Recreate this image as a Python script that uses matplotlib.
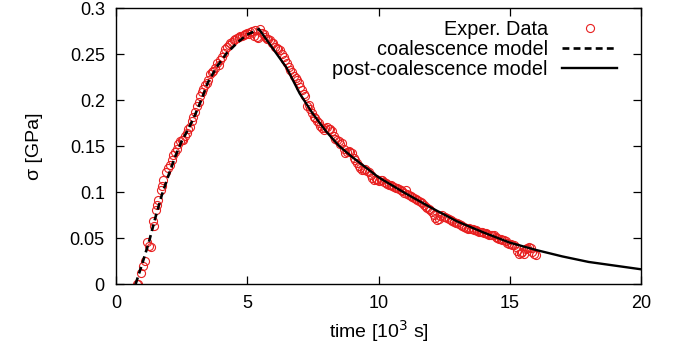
"""Stress relaxation: experimental data vs coalescence / post-coalescence model."""
import matplotlib

matplotlib.use("Agg")
import matplotlib.pyplot as plt

exp_t = [
    0.80, 0.85, 0.97, 1.04, 1.10, 1.20, 1.26, 1.32, 1.42, 1.46, 1.51, 1.58, 1.62, 1.70,
    1.75, 1.81, 1.91, 1.97, 2.06, 2.12, 2.19, 2.26, 2.32, 2.38, 2.44, 2.50, 2.57, 2.64,
    2.70, 2.76, 2.82, 2.89, 2.95, 3.02, 3.08, 3.15, 3.21, 3.27, 3.33, 3.40, 3.46, 3.52,
    3.59, 3.65, 3.71, 3.78, 3.84, 3.91, 3.97, 4.04, 4.10, 4.16, 4.22, 4.29, 4.35, 4.42,
    4.48, 4.55, 4.61, 4.67, 4.74, 4.80, 4.86, 4.93, 4.99, 5.05, 5.11, 5.18, 5.24, 5.31,
    5.37, 5.42, 5.50, 5.56, 5.62, 5.69, 5.75, 5.81, 5.88, 5.94, 6.00, 6.07, 6.13, 6.19,
    6.26, 6.32, 6.39, 6.45, 6.52, 6.58, 6.64, 6.71, 6.77, 6.84, 6.90, 6.96, 7.02, 7.09,
    7.15, 7.21, 7.28, 7.34, 7.40, 7.47, 7.53, 7.59, 7.66, 7.72, 7.78, 7.85, 7.91, 7.98,
    8.04, 8.10, 8.17, 8.23, 8.30, 8.36, 8.42, 8.49, 8.55, 8.61, 8.68, 8.74, 8.80, 8.87,
    8.93, 9.00, 9.06, 9.12, 9.19, 9.25, 9.31, 9.38, 9.44, 9.50, 9.57, 9.63, 9.70, 9.76,
    9.82, 9.89, 9.95, 10.01, 10.08, 10.14, 10.20, 10.27, 10.33, 10.40, 10.46, 10.52,
    10.59, 10.65, 10.71, 10.78, 10.84, 10.90, 10.97, 11.03, 11.09, 11.16, 11.22, 11.28,
    11.35, 11.41, 11.47, 11.54, 11.60, 11.67, 11.73, 11.79, 11.86, 11.92, 11.98, 12.05,
    12.11, 12.17, 12.24, 12.30, 12.36, 12.43, 12.49, 12.55, 12.62, 12.68, 12.75, 12.81,
    12.87, 12.94, 13.00, 13.07, 13.13, 13.19, 13.26, 13.32, 13.39, 13.45, 13.51, 13.58,
    13.64, 13.70, 13.77, 13.83, 13.90, 13.96, 14.02, 14.09, 14.15, 14.21, 14.28, 14.34,
    14.40, 14.47, 14.53, 14.59, 14.66, 14.72, 14.78, 14.85, 14.91, 14.97, 15.04, 15.10,
    15.16, 15.23, 15.29, 15.35, 15.42, 15.48, 15.55, 15.61, 15.67, 15.74, 15.80, 15.86,
    15.93, 15.99,
]
exp_sigma = [
    0.000, 0.000, 0.012, 0.020, 0.025, 0.046, 0.041, 0.040, 0.068, 0.063, 0.080, 0.086, 0.091, 0.102,
    0.106, 0.113, 0.122, 0.126, 0.129, 0.135, 0.140, 0.143, 0.147, 0.152, 0.155, 0.156, 0.157, 0.161,
    0.164, 0.168, 0.171, 0.177, 0.182, 0.187, 0.193, 0.198, 0.204, 0.209, 0.212, 0.216, 0.219, 0.222,
    0.228, 0.230, 0.231, 0.235, 0.240, 0.238, 0.244, 0.247, 0.251, 0.255, 0.258, 0.260, 0.262, 0.263,
    0.265, 0.266, 0.267, 0.268, 0.270, 0.270, 0.271, 0.272, 0.273, 0.272, 0.274, 0.275, 0.270, 0.276,
    0.268, 0.267, 0.277, 0.273, 0.272, 0.268, 0.266, 0.266, 0.265, 0.262, 0.262, 0.258, 0.257, 0.255,
    0.254, 0.250, 0.247, 0.243, 0.240, 0.236, 0.233, 0.230, 0.226, 0.224, 0.222, 0.218, 0.214, 0.211,
    0.207, 0.204, 0.193, 0.195, 0.190, 0.186, 0.182, 0.180, 0.177, 0.175, 0.172, 0.170, 0.167, 0.170,
    0.171, 0.168, 0.169, 0.166, 0.161, 0.158, 0.156, 0.155, 0.152, 0.153, 0.147, 0.142, 0.143, 0.145,
    0.143, 0.142, 0.137, 0.135, 0.131, 0.128, 0.126, 0.124, 0.124, 0.125, 0.123, 0.122, 0.118, 0.115,
    0.113, 0.114, 0.113, 0.112, 0.113, 0.113, 0.111, 0.110, 0.109, 0.108, 0.108, 0.106,
    0.105, 0.104, 0.104, 0.103, 0.102, 0.101, 0.099, 0.102, 0.098, 0.097, 0.096, 0.095,
    0.094, 0.092, 0.091, 0.090, 0.089, 0.088, 0.086, 0.084, 0.083, 0.081, 0.080, 0.078,
    0.075, 0.072, 0.070, 0.071, 0.074, 0.075, 0.073, 0.073, 0.072, 0.071, 0.070, 0.068,
    0.067, 0.066, 0.066, 0.065, 0.064, 0.063, 0.062, 0.061, 0.060, 0.061, 0.060, 0.060,
    0.059, 0.059, 0.058, 0.057, 0.057, 0.057, 0.055, 0.055, 0.054, 0.053, 0.053, 0.053,
    0.053, 0.051, 0.050, 0.049, 0.049, 0.048, 0.048, 0.047, 0.045, 0.044, 0.043, 0.042,
    0.042, 0.040, 0.036, 0.033, 0.034, 0.035, 0.033, 0.038, 0.039, 0.040, 0.039, 0.035,
    0.033, 0.032,
]

# coalescence model (loading branch)
coal_t = [0.75, 1.0, 1.25, 1.5, 1.75, 2.0, 2.25, 2.5, 2.75, 3.0, 3.25, 3.5, 3.84, 4.22, 4.61, 4.99, 5.45]
coal_sigma = [0.0, 0.022, 0.045, 0.072, 0.097, 0.118, 0.138, 0.155, 0.168, 0.183, 0.200, 0.219,
              0.236, 0.251, 0.262, 0.271, 0.277]

# post-coalescence model (relaxation branch)
post_t = [5.45, 6.0, 6.5, 7.0, 7.5, 8.0, 8.5, 9.0, 9.5, 10, 11, 12, 13, 14, 15, 16, 17, 18, 19, 20]
post_sigma = [0.277, 0.255, 0.235, 0.207, 0.185, 0.166, 0.150, 0.138, 0.127, 0.116, 0.099, 0.083,
              0.068, 0.056, 0.045, 0.037, 0.030, 0.024, 0.020, 0.016]

plt.rcParams["font.family"] = ["Liberation Sans", "DejaVu Sans"]
plt.rcParams["font.size"] = 13

fig = plt.figure(figsize=(6.82, 3.56), dpi=100)
ax = fig.add_axes([0.170, 0.2022, 0.770, 0.7753])

ax.plot(exp_t, exp_sigma, "o", ms=5.8, mfc="none", mec="#e82020", mew=0.8, label="Exper. Data")
ax.plot(coal_t, coal_sigma, color="black", lw=1.9, dashes=(2.6, 1.6), label="coalescence model")
ax.plot(post_t, post_sigma, color="black", lw=1.7, label="post-coalescence model")

ax.set_xlim(0, 20)
ax.set_ylim(0, 0.3)
ax.set_xticks([0, 5, 10, 15, 20])
ax.set_yticks([0, 0.05, 0.1, 0.15, 0.2, 0.25, 0.3])
ax.set_yticklabels(["0", "0.05", "0.1", "0.15", "0.2", "0.25", "0.3"])
ax.tick_params(direction="in", length=6, width=0.9, top=True, right=True, pad=8)
for s in ax.spines.values():
    s.set_linewidth(1.0)

ax.set_xlabel(r"time [10$^3$ s]", fontsize=14, labelpad=4)
ax.set_ylabel(r"σ [GPa]", fontsize=14, labelpad=19)

leg = ax.legend(loc="upper right", bbox_to_anchor=(0.955, 0.955), frameon=False,
                markerfirst=False, handlelength=2.8, handletextpad=0.7, fontsize=14.3,
                labelspacing=0.03, borderaxespad=0.0, borderpad=0.0)

fig.savefig("out.png", dpi=100)
